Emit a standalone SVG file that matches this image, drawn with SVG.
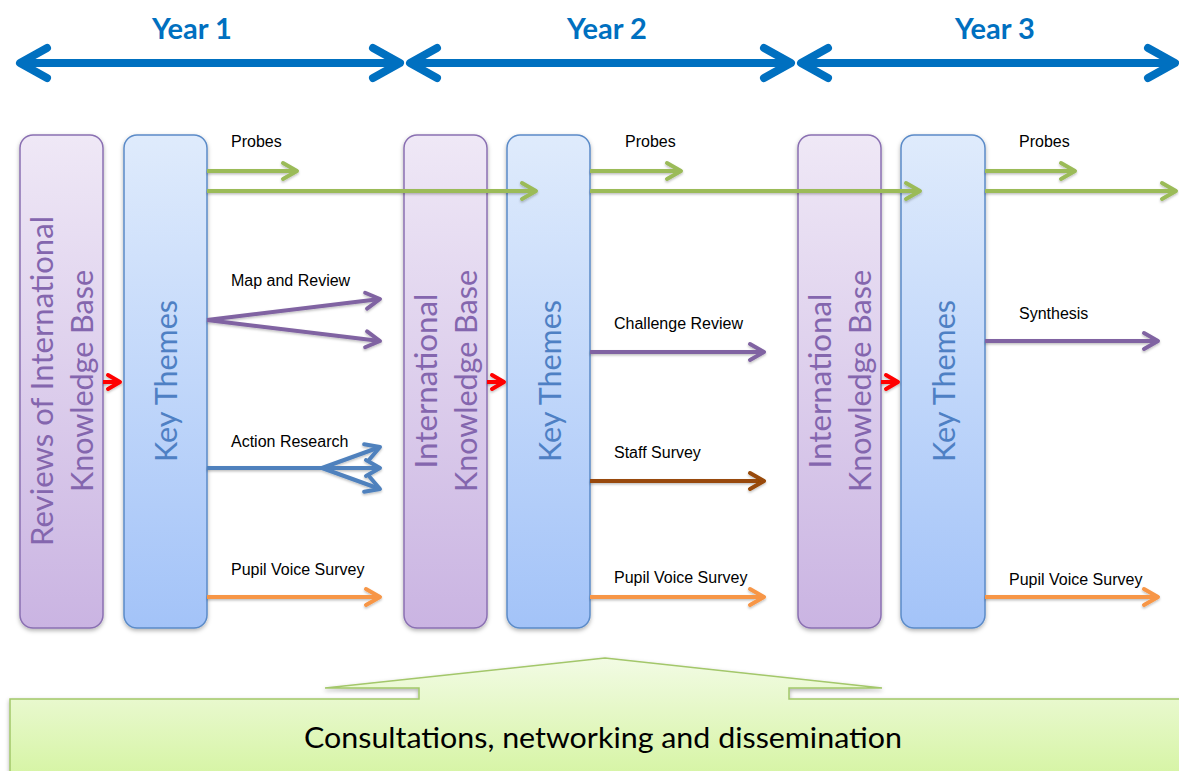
<svg xmlns="http://www.w3.org/2000/svg" width="1179" height="771" viewBox="0 0 1179 771">
<style>
.lbl{font-family:"Liberation Sans",Arial,sans-serif;font-size:16px;fill:#000}
.year{font-family:Lato,"Open Sans",sans-serif;font-weight:bold;font-size:29px;fill:#0070C0;text-anchor:middle}
.vt{font-family:Lato,"Open Sans",sans-serif;font-size:31px;text-anchor:middle}
.pt{fill:#8466AE}
.bt{fill:#4E80C4}
.pbox{fill:url(#gp);stroke:#8A70B2;stroke-width:1.5}
.bbox{fill:url(#gb);stroke:#5B8BC8;stroke-width:1.5}
.c{fill:none;stroke-width:4;stroke-linecap:butt}
.g{stroke:#9BBB59;marker-end:url(#ag)}
.p{stroke:#8064A2;marker-end:url(#ap)}
.b{stroke:#4F81BD}
.o{stroke:#F79646;marker-end:url(#ao)}
.br{stroke:#984807;marker-end:url(#abr)}
.r{stroke:#FF0000;marker-end:url(#ar)}
.yr{fill:none;stroke:#0070C0;stroke-width:8;marker-start:url(#ay);marker-end:url(#ay)}
</style>
<defs>
<linearGradient id="gp" x1="0" y1="0" x2="0" y2="1"><stop offset="0" stop-color="#EFE8F6"/><stop offset="1" stop-color="#CAB4E2"/></linearGradient>
<linearGradient id="gb" x1="0" y1="0" x2="0" y2="1"><stop offset="0" stop-color="#DFEBFC"/><stop offset="1" stop-color="#A3C3F8"/></linearGradient>
<linearGradient id="gg" x1="0" y1="0" x2="0" y2="1"><stop offset="0" stop-color="#F2FBE4"/><stop offset="1" stop-color="#D5F4A2"/></linearGradient>
<filter id="sh" x="-20%" y="-5%" width="140%" height="115%"><feDropShadow dx="0" dy="2" stdDeviation="2" flood-color="#000" flood-opacity="0.3"/></filter>
<filter id="ls" x="-5%" y="-50%" width="110%" height="200%"><feDropShadow dx="0" dy="1.5" stdDeviation="1" flood-color="#000" flood-opacity="0.25"/></filter>
<marker id="ag" markerUnits="userSpaceOnUse" orient="auto" overflow="visible" markerWidth="1" markerHeight="1"><path d="M-14,-8 L0,0 L-14,8" fill="none" stroke="#9BBB59" stroke-width="4" stroke-linecap="round" stroke-linejoin="round"/></marker>
<marker id="ap" markerUnits="userSpaceOnUse" orient="auto" overflow="visible" markerWidth="1" markerHeight="1"><path d="M-14,-8 L0,0 L-14,8" fill="none" stroke="#8064A2" stroke-width="4" stroke-linecap="round" stroke-linejoin="round"/></marker>
<marker id="ab" markerUnits="userSpaceOnUse" orient="auto" overflow="visible" markerWidth="1" markerHeight="1"><path d="M-14,-8 L0,0 L-14,8" fill="none" stroke="#4F81BD" stroke-width="4" stroke-linecap="round" stroke-linejoin="round"/></marker>
<marker id="ao" markerUnits="userSpaceOnUse" orient="auto" overflow="visible" markerWidth="1" markerHeight="1"><path d="M-14,-8 L0,0 L-14,8" fill="none" stroke="#F79646" stroke-width="4" stroke-linecap="round" stroke-linejoin="round"/></marker>
<marker id="abr" markerUnits="userSpaceOnUse" orient="auto" overflow="visible" markerWidth="1" markerHeight="1"><path d="M-14,-8 L0,0 L-14,8" fill="none" stroke="#984807" stroke-width="4" stroke-linecap="round" stroke-linejoin="round"/></marker>
<marker id="ar" markerUnits="userSpaceOnUse" orient="auto" overflow="visible" markerWidth="1" markerHeight="1"><path d="M-12,-7 L0,0 L-12,7" fill="none" stroke="#FF0000" stroke-width="4" stroke-linecap="round" stroke-linejoin="round"/></marker>
<marker id="ay" markerUnits="userSpaceOnUse" orient="auto-start-reverse" overflow="visible" markerWidth="1" markerHeight="1"><path d="M-27,-15 L0,0 L-27,15" fill="none" stroke="#0070C0" stroke-width="8" stroke-linecap="round" stroke-linejoin="round"/></marker>
</defs>
<rect width="1179" height="771" fill="#fff"/>

<g id="years">
<text class="year" x="192" y="39">Year 1</text>
<text class="year" x="607" y="39">Year 2</text>
<text class="year" x="995" y="39">Year 3</text>
<path class="yr" d="M20,63 H400"/>
<path class="yr" d="M410,63 H791"/>
<path class="yr" d="M801,63 H1175"/>
</g>

<g id="box-reviews">
<rect class="pbox" x="20" y="135" width="83" height="493" rx="13" filter="url(#sh)"/>
<text class="vt pt" transform="translate(53,381) rotate(-90)" textLength="330" lengthAdjust="spacingAndGlyphs">Reviews of International</text>
<text class="vt pt" transform="translate(93,381) rotate(-90)" textLength="222" lengthAdjust="spacingAndGlyphs">Knowledge Base</text>
</g>
<g id="box-key1">
<rect class="bbox" x="124" y="135" width="83" height="493" rx="13" filter="url(#sh)"/>
<text class="vt bt" transform="translate(177,381) rotate(-90)" textLength="162" lengthAdjust="spacingAndGlyphs">Key Themes</text>
</g>
<g id="box-ikb2">
<rect class="pbox" x="404" y="135" width="83" height="493" rx="13" filter="url(#sh)"/>
<text class="vt pt" transform="translate(437,381) rotate(-90)" textLength="175" lengthAdjust="spacingAndGlyphs">International</text>
<text class="vt pt" transform="translate(477,381) rotate(-90)" textLength="222" lengthAdjust="spacingAndGlyphs">Knowledge Base</text>
</g>
<g id="box-key2">
<rect class="bbox" x="507" y="135" width="83" height="493" rx="13" filter="url(#sh)"/>
<text class="vt bt" transform="translate(561,381) rotate(-90)" textLength="162" lengthAdjust="spacingAndGlyphs">Key Themes</text>
</g>
<g id="box-ikb3">
<rect class="pbox" x="798" y="135" width="83" height="493" rx="13" filter="url(#sh)"/>
<text class="vt pt" transform="translate(831,381) rotate(-90)" textLength="175" lengthAdjust="spacingAndGlyphs">International</text>
<text class="vt pt" transform="translate(871,381) rotate(-90)" textLength="222" lengthAdjust="spacingAndGlyphs">Knowledge Base</text>
</g>
<g id="box-key3">
<rect class="bbox" x="901" y="135" width="84" height="493" rx="13" filter="url(#sh)"/>
<text class="vt bt" transform="translate(955,381) rotate(-90)" textLength="162" lengthAdjust="spacingAndGlyphs">Key Themes</text>
</g>

<g id="connectors" filter="url(#ls)">
<path class="c r" d="M103,382 H120"/>
<path class="c r" d="M487,382 H504"/>
<path class="c r" d="M881,382 H898"/>
<path class="c g" d="M207,171 H297"/>
<path class="c g" d="M207,191 H536"/>
<path class="c p" d="M207,320 L380,299"/>
<path class="c p" d="M207,320 L380,341"/>
<path class="c b" d="M207,468 H322"/>
<path class="c b" d="M322,468 L380,447" marker-end="url(#ab)"/>
<path class="c b" d="M322,468 H380" marker-end="url(#ab)"/>
<path class="c b" d="M322,468 L380,489" marker-end="url(#ab)"/>
<path class="c o" d="M207,597 H380"/>
<path class="c g" d="M590,171 H681"/>
<path class="c g" d="M590,191 H920"/>
<path class="c p" d="M590,352 H764"/>
<path class="c br" d="M590,481 H764"/>
<path class="c o" d="M590,597 H764"/>
<path class="c g" d="M985,171 H1075"/>
<path class="c g" d="M985,191 H1176"/>
<path class="c p" d="M985,341 H1158"/>
<path class="c o" d="M985,597 H1158"/>
</g>

<g id="labels">
<text class="lbl" x="231" y="147">Probes</text>
<text class="lbl" x="231" y="286">Map and Review</text>
<text class="lbl" x="231" y="447">Action Research</text>
<text class="lbl" x="231" y="575">Pupil Voice Survey</text>
<text class="lbl" x="625" y="147">Probes</text>
<text class="lbl" x="614" y="329">Challenge Review</text>
<text class="lbl" x="614" y="458">Staff Survey</text>
<text class="lbl" x="614" y="583">Pupil Voice Survey</text>
<text class="lbl" x="1019" y="147">Probes</text>
<text class="lbl" x="1019" y="319">Synthesis</text>
<text class="lbl" x="1009" y="585">Pupil Voice Survey</text>
</g>

<g id="consultations">
<path d="M10,699 H419 V688 H325 L605,658 L882,688 H789 V699 H1185 V780 H10 Z" fill="url(#gg)" stroke="#A3C76A" stroke-width="1.5" filter="url(#sh)"/>
<text x="603" y="748" font-family="Lato,'Open Sans',sans-serif" font-size="28" text-anchor="middle" fill="#000" textLength="598" lengthAdjust="spacingAndGlyphs">Consultations, networking and dissemination</text>
</g>
</svg>
